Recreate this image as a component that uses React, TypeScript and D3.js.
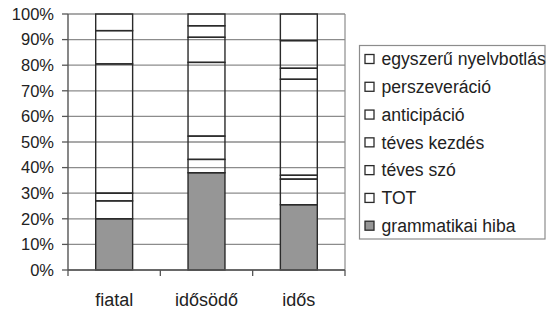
import React from "react";
import * as d3 from "d3";

const categories = ["fiatal", "idősödő", "idős"];
const seriesNames = [
  "grammatikai hiba",
  "TOT",
  "téves szó",
  "téves kezdés",
  "anticipáció",
  "perszeveráció",
  "egyszerű nyelvbotlás",
];
const grammatikai = [20, 38, 25.5];
const tot = [7, 5.2, 10];
const tevesSzo = [3, 9.1, 1.5];
const tevesKezdes = [50.5, 28.8, 37.5];
const anticipacio = [0, 9.8, 4.3];
const perszeveracio = [13, 4.5, 10.8];
const egyszeru = [6.5, 4.6, 10.4];
const yTicks = [0, 10, 20, 30, 40, 50, 60, 70, 80, 90, 100];

const seriesValues = [grammatikai, tot, tevesSzo, tevesKezdes, anticipacio, perszeveracio, egyszeru];
const seriesFill = ["#969696", "none", "none", "none", "none", "none", "none"];
const legendFill = ["#969696", "#fff", "#fff", "#fff", "#fff", "#fff", "#fff"];

const W = 547;
const H = 309;
const left = 68;
const right = 345;
const top = 14;
const bottom = 270;

export default function App() {
  const x = d3.scaleBand<string>().domain(categories).range([left, right]).padding(0);
  const y = d3.scaleLinear().domain([0, 100]).range([bottom, top]);
  const rows = categories.map((c, i) => {
    const r: any = { cat: c };
    seriesNames.forEach((s, j) => (r[s] = seriesValues[j][i]));
    return r;
  });
  const stacked = d3.stack<any>().keys(seriesNames)(rows);
  const bw = x.bandwidth() * 0.4;
  const font = "'Liberation Sans', Arial, sans-serif";
  const tickXs = [...categories.map((c) => x(c)!), right];
  const legendOrder = [...seriesNames].reverse();
  const legendY = d3.scalePoint<string>().domain(legendOrder).range([59, 225.7]);

  return (
    <svg width={W} height={H} style={{ position: "absolute", left: 0, top: 0, background: "#fff" }}>
      {/* gridlines */}
      {yTicks.map((t) => (
        <line key={"g" + t} x1={left} x2={right} y1={y(t)} y2={y(t)} stroke="#8c8c8c" strokeWidth={1.3} />
      ))}
      {/* plot right border */}
      <line x1={right} x2={right} y1={top} y2={bottom} stroke="#8c8c8c" strokeWidth={1.2} />
      {/* bars */}
      {stacked.map((layer, j) =>
        layer.map((d, i) => {
          const cx = x(categories[i])! + x.bandwidth() / 2;
          const y0 = y(d[0]);
          const y1 = y(d[1]);
          if (d[1] - d[0] <= 0) return null;
          return (
            <rect
              key={j + "-" + i}
              x={cx - bw / 2}
              y={y1}
              width={bw}
              height={y0 - y1}
              fill={seriesFill[j]}
              stroke="#2a2a2a"
              strokeWidth={1.4}
            />
          );
        })
      )}
      {/* y axis */}
      <line x1={left} x2={left} y1={top} y2={bottom} stroke="#555" strokeWidth={1.4} />
      {yTicks.map((t) => (
        <g key={"yt" + t}>
          <line x1={left - 6} x2={left} y1={y(t)} y2={y(t)} stroke="#555" strokeWidth={1.3} />
          <text x={54} y={y(t)} dy="0.35em" textAnchor="end" fontFamily={font} fontSize={16.5} fill="#222">
            {t}%
          </text>
        </g>
      ))}
      {/* x axis */}
      <line x1={left} x2={right} y1={bottom} y2={bottom} stroke="#555" strokeWidth={1.4} />
      {tickXs.map((tx, i) => (
        <line key={"xt" + i} x1={tx} x2={tx} y1={bottom} y2={bottom + 6} stroke="#555" strokeWidth={1.3} />
      ))}
      {categories.map((c) => (
        <text key={c} x={x(c)! + x.bandwidth() / 2} y={306} textAnchor="middle" fontFamily={font} fontSize={18} fill="#222">
          {c}
        </text>
      ))}
      {/* legend */}
      <rect x={359.5} y={45.5} width={185.5} height={193.5} fill="#fff" stroke="#8c8c8c" strokeWidth={1.2} />
      {legendOrder.map((s) => {
        const j = seriesNames.indexOf(s);
        const ly = legendY(s)!;
        return (
          <g key={"l" + s}>
            <rect x={365} y={ly - 4.5} width={9} height={9} fill={legendFill[j]} stroke="#2a2a2a" strokeWidth={1.3} />
            <text x={381.5} y={ly} dy="0.35em" fontFamily={font} fontSize={17.6} fill="#222">
              {s}
            </text>
          </g>
        );
      })}
    </svg>
  );
}
